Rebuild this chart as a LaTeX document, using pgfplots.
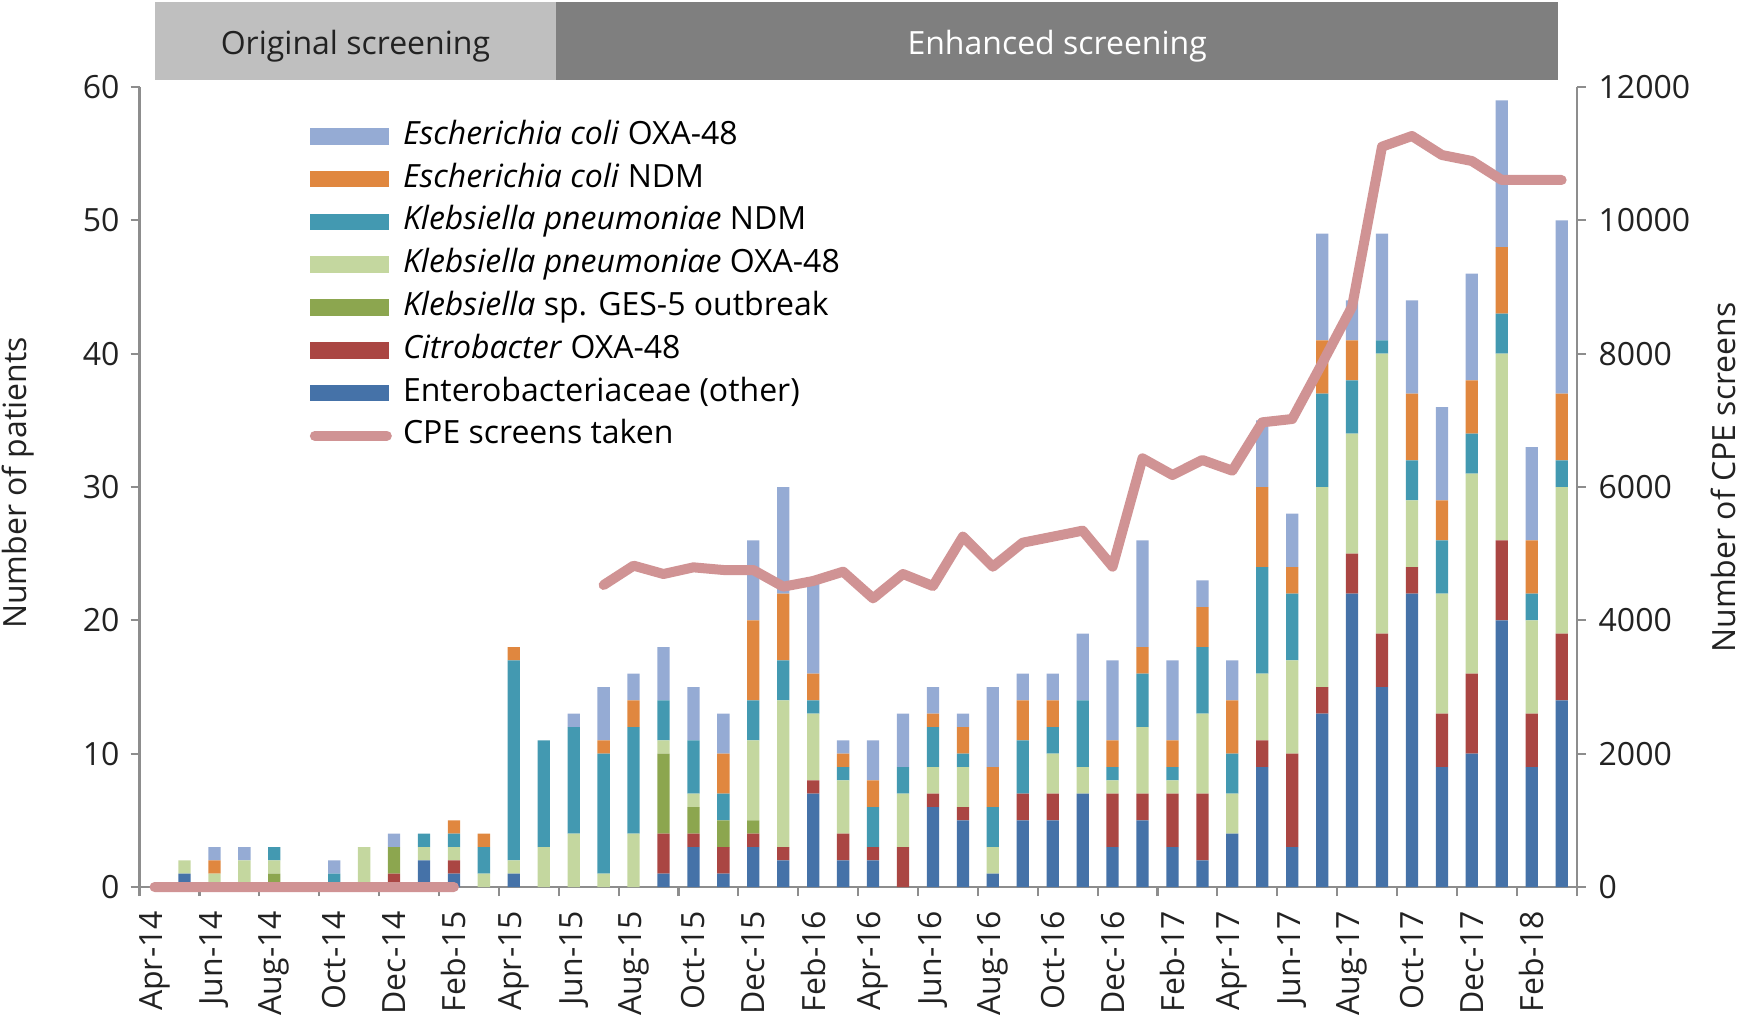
\documentclass[border=0pt]{standalone}
\usepackage{fontspec}
\setmainfont{Open Sans}
\usepackage{pgfplots}
\pgfplotsset{compat=1.18}
\usepackage{pgfplotstable}

\definecolor{cEO}{HTML}{95ABD4}
\definecolor{cEN}{HTML}{E0873F}
\definecolor{cKN}{HTML}{4399B1}
\definecolor{cKO}{HTML}{C4D79F}
\definecolor{cGE}{HTML}{8CA64F}
\definecolor{cCI}{HTML}{AA4643}
\definecolor{cOT}{HTML}{4572A8}
\definecolor{cLN}{HTML}{D09394}
\definecolor{axgray}{HTML}{8D8D8D}
\definecolor{hdrLight}{HTML}{BFBFBF}
\definecolor{hdrDark}{HTML}{7F7F7F}
\definecolor{txt}{HTML}{222222}

\pgfplotstableread{
x oth cit ges kpo kpn ecn eco scr
0 0 0 0 0 0 0 0 0
1 1 0 0 1 0 0 0 0
2 0 0 0 1 0 1 1 0
3 0 0 0 2 0 0 1 0
4 0 0 1 1 1 0 0 0
5 0 0 0 0 0 0 0 0
6 0 0 0 0 1 0 1 0
7 0 0 0 3 0 0 0 0
8 0 1 2 0 0 0 1 0
9 2 0 0 1 1 0 0 0
10 1 1 0 1 1 1 0 0
11 0 0 0 1 2 1 0 nan
12 1 0 0 1 15 1 0 nan
13 0 0 0 3 8 0 0 nan
14 0 0 0 4 8 0 1 nan
15 0 0 0 1 9 1 4 4530
16 0 0 0 4 8 2 2 4820
17 1 3 6 1 3 0 4 4695
18 3 1 2 1 4 0 4 4795
19 1 2 2 0 2 3 3 4755
20 3 1 1 6 3 6 6 4755
21 2 1 0 11 3 5 8 4505
22 7 1 0 5 1 2 7 4590
23 2 2 0 4 1 1 1 4730
24 2 1 0 0 3 2 3 4330
25 0 3 0 4 2 0 4 4695
26 6 1 0 2 3 1 2 4515
27 5 1 0 3 1 2 1 5255
28 1 0 0 2 3 3 6 4805
29 5 2 0 0 4 3 2 5165
30 5 2 0 3 2 2 2 5255
31 7 0 0 2 5 0 5 5345
32 3 4 0 1 1 2 6 4805
33 5 2 0 5 4 2 8 6430
34 3 4 0 1 1 2 6 6180
35 2 5 0 6 5 3 2 6405
36 4 0 0 3 3 4 3 6245
37 9 2 0 5 8 6 5 6970
38 3 7 0 7 5 2 4 7020
39 13 2 0 15 7 4 8 7855
40 22 3 0 9 4 3 3 8705
41 15 4 0 21 1 0 8 11105
42 22 2 0 5 3 5 7 11265
43 9 4 0 9 4 3 7 10980
44 10 6 0 15 3 4 8 10890
45 20 6 0 14 3 5 11 10605
46 9 4 0 7 2 4 7 10605
47 14 5 0 11 2 5 13 10605
}\data

\newcommand{\fs}{\fontsize{16}{19}\selectfont}

\begin{document}
\fs
\begin{tikzpicture}
\useasboundingbox (-69.8pt,-66pt) rectangle (802.7pt,443.5pt);
\begin{axis}[
  at={(0,0)}, anchor=south west,
  scale only axis, width=718.5pt, height=400pt,
  xmin=-0.5, xmax=47.5, ymin=0, ymax=60,
  ybar stacked, bar width=0.41,
  axis x line*=bottom, axis y line*=left,
  axis line style={draw=axgray, line width=1.1pt},
  tick style={draw=axgray, line width=1.1pt},
  tick align=outside,
  major tick length=4.5pt, minor tick length=4.5pt,
  ytick={0,10,...,60},
  xtick={0,2,...,46},
  xticklabels={Apr-14,Jun-14,Aug-14,Oct-14,Dec-14,Feb-15,Apr-15,Jun-15,Aug-15,Oct-15,Dec-15,Feb-16,Apr-16,Jun-16,Aug-16,Oct-16,Dec-16,Feb-17,Apr-17,Jun-17,Aug-17,Oct-17,Dec-17,Feb-18},
  major x tick style={draw=none},
  minor xtick={-0.5,1.5,...,47.5},
  x tick label style={rotate=90, anchor=east, xshift=-2pt},
  every tick label/.append style={font=\fs, text=txt},
  /pgf/number format/assume math mode=true,
  ylabel={Number of patients},
  ylabel style={at={(axis description cs:-0.0962,0.505)}, anchor=north, inner sep=0pt, font=\fs, text=txt},
  clip=false,
]
\addplot[fill=cOT, draw=none] table[x=x, y=oth]{\data};
\addplot[fill=cCI, draw=none] table[x=x, y=cit]{\data};
\addplot[fill=cGE, draw=none] table[x=x, y=ges]{\data};
\addplot[fill=cKO, draw=none] table[x=x, y=kpo]{\data};
\addplot[fill=cKN, draw=none] table[x=x, y=kpn]{\data};
\addplot[fill=cEN, draw=none] table[x=x, y=ecn]{\data};
\addplot[fill=cEO, draw=none] table[x=x, y=eco]{\data};
\end{axis}
\begin{axis}[
  at={(0,0)}, anchor=south west,
  scale only axis, width=718.5pt, height=400pt,
  xmin=-0.5, xmax=47.5, ymin=0, ymax=12000,
  axis x line=none, axis y line*=right,
  axis line style={draw=axgray, line width=1.1pt},
  tick style={draw=axgray, line width=1.1pt},
  tick align=outside, major tick length=4.5pt,
  ytick={0,2000,...,12000},
  scaled y ticks=false,
  yticklabel style={/pgf/number format/fixed, /pgf/number format/1000 sep={}, font=\fs, text=txt, xshift=1pt},
  /pgf/number format/assume math mode=true,
  ylabel={Number of CPE screens},
  ylabel style={at={(axis description cs:1.1108,0.512)}, anchor=south, rotate=0, inner sep=0pt, font=\fs, text=txt},
  unbounded coords=jump,
  clip=false,
  legend cell align=left,
  legend style={at={(rel axis cs:0.1182,0.9575)}, anchor=north west, draw=none, fill=none,
    font=\fs, row sep=6.6pt, column sep=5.6pt, inner sep=0pt,
    nodes={inner sep=0pt, text height=11.5pt, text depth=3.3pt}},
]
\addlegendimage{legend image code/.code={\fill[cEO] (0pt,-3.9pt) rectangle (39pt,3.9pt);}}
\addlegendentry{\textit{Escherichia coli} OXA-48}
\addlegendimage{legend image code/.code={\fill[cEN] (0pt,-3.9pt) rectangle (39pt,3.9pt);}}
\addlegendentry{\textit{Escherichia coli} NDM}
\addlegendimage{legend image code/.code={\fill[cKN] (0pt,-3.9pt) rectangle (39pt,3.9pt);}}
\addlegendentry{\textit{Klebsiella pneumoniae} NDM}
\addlegendimage{legend image code/.code={\fill[cKO] (0pt,-3.9pt) rectangle (39pt,3.9pt);}}
\addlegendentry{\textit{Klebsiella pneumoniae} OXA-48}
\addlegendimage{legend image code/.code={\fill[cGE] (0pt,-3.9pt) rectangle (39pt,3.9pt);}}
\addlegendentry{\textit{Klebsiella} sp. GES-5 outbreak}
\addlegendimage{legend image code/.code={\fill[cCI] (0pt,-3.9pt) rectangle (39pt,3.9pt);}}
\addlegendentry{\textit{Citrobacter} OXA-48}
\addlegendimage{legend image code/.code={\fill[cOT] (0pt,-3.9pt) rectangle (39pt,3.9pt);}}
\addlegendentry{Enterobacteriaceae (other)}
\addplot[cLN, line width=5pt, line cap=round, line join=round, mark=none,
  legend image code/.code={\draw[cLN, line width=5pt, line cap=round] (2pt,0pt) -- (38pt,0pt);}]
  table[x=x, y=scr]{\data};
\addlegendentry{CPE screens taken}
\fill[hdrLight] (axis cs:0,12100) rectangle (axis cs:13.42,13270);
\fill[hdrDark] (axis cs:13.42,12100) rectangle (axis cs:46.87,13270);
\node[text=txt, font=\fs, anchor=center] at (axis cs:6.71,12615) {Original screening};
\node[text=white, font=\fs, anchor=center] at (axis cs:30.15,12615) {Enhanced screening};
\end{axis}
\end{tikzpicture}
\end{document}
